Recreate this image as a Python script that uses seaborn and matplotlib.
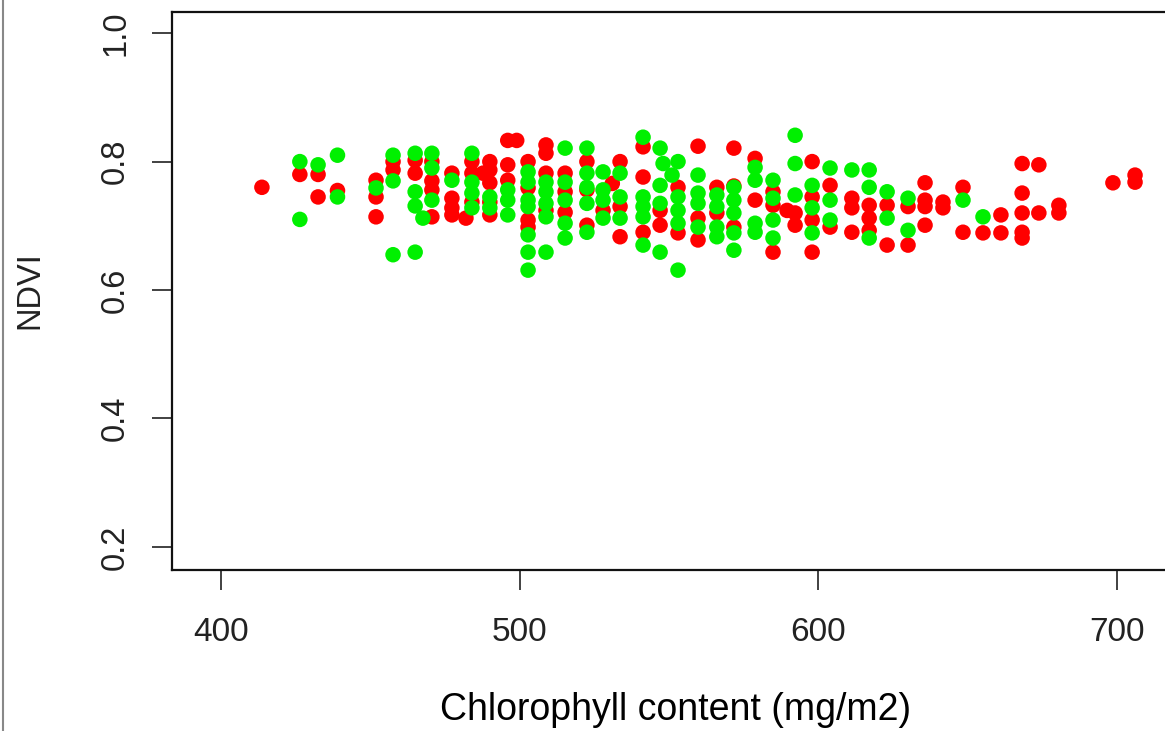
import numpy as np
import pandas as pd
import matplotlib
matplotlib.use("Agg")
import matplotlib.pyplot as plt
import seaborn as sns
from matplotlib.lines import Line2D

# chlorophyll (mg/m2) and NDVI
red_x = [413.7, 426.4, 432.5, 432.5, 439.0, 451.9, 451.9, 451.9, 457.6, 457.6,
         465.0, 465.0, 470.6, 470.6, 470.6, 470.6, 477.3, 477.3, 477.3, 477.3,
         482.0, 484.0, 484.0, 484.0, 487.7, 490.0, 490.0, 490.0, 490.0, 490.0,
         496.0, 496.0, 496.0, 499.0, 502.8, 502.8, 502.8, 502.8,
         508.8, 508.8, 508.8, 508.8, 515.2, 515.2, 515.2, 522.5, 522.5, 522.5,
         527.9, 531.0, 533.6, 533.6, 533.6, 541.3, 541.3, 541.3, 547.0, 547.0,
         553.0, 553.0, 559.7, 559.7, 559.7, 566.0, 566.0, 571.7, 571.7, 571.7,
         578.8, 578.8, 584.8, 584.8, 584.8, 589.5, 592.2, 592.2,
         597.9, 597.9, 597.9, 597.9, 603.9, 603.9, 611.2, 611.2, 611.2,
         617.0, 617.0, 617.0, 623.0, 623.0, 630.0, 630.0,
         635.7, 635.7, 635.7, 635.7, 641.7, 641.7, 648.4, 648.4, 655.1,
         661.1, 661.1, 668.2, 668.2, 668.2, 668.2, 668.2, 673.8, 673.8,
         680.5, 680.5, 698.6, 706.0, 706.0]
red_y = [0.760, 0.780, 0.780, 0.745, 0.755, 0.771, 0.745, 0.714, 0.800, 0.787,
         0.802, 0.782, 0.800, 0.770, 0.756, 0.714, 0.782, 0.743, 0.728, 0.717,
         0.712, 0.800, 0.782, 0.737, 0.782, 0.800, 0.787, 0.767, 0.737, 0.717,
         0.795, 0.771, 0.833, 0.833, 0.800, 0.759, 0.709, 0.698,
         0.826, 0.813, 0.782, 0.724, 0.782, 0.753, 0.721, 0.800, 0.756, 0.701,
         0.724, 0.766, 0.800, 0.730, 0.683, 0.823, 0.776, 0.690, 0.724, 0.701,
         0.760, 0.689, 0.824, 0.712, 0.678, 0.760, 0.720, 0.821, 0.762, 0.698,
         0.805, 0.740, 0.753, 0.732, 0.659, 0.724, 0.720, 0.701,
         0.800, 0.745, 0.709, 0.659, 0.763, 0.698, 0.743, 0.728, 0.690,
         0.732, 0.712, 0.693, 0.732, 0.670, 0.730, 0.670,
         0.767, 0.740, 0.730, 0.701, 0.737, 0.728, 0.760, 0.690, 0.689,
         0.717, 0.689, 0.797, 0.751, 0.720, 0.690, 0.681, 0.795, 0.720,
         0.732, 0.720, 0.767, 0.779, 0.768]

green_x = [426.4, 426.4, 432.5, 439.0, 439.0, 451.9, 457.6, 457.6, 457.6,
           465.0, 465.0, 465.0, 465.0, 470.6, 470.6, 470.6, 467.6, 477.3,
           484.0, 484.0, 484.0, 484.0, 490.0, 490.0, 496.0, 496.0, 496.0,
           502.8, 502.8, 502.8, 502.8, 502.8, 502.8, 502.8,
           508.8, 508.8, 508.8, 508.8, 508.8, 515.2, 515.2, 515.2, 515.2, 515.2,
           522.5, 522.5, 522.5, 522.5, 522.5, 527.9, 527.9, 527.9, 527.9,
           533.6, 533.6, 533.6, 541.3, 541.3, 541.3, 541.3, 541.3,
           547.0, 548.0, 547.0, 547.0, 547.0, 551.0, 553.0, 553.0, 553.0, 553.0, 553.0,
           559.7, 559.7, 559.7, 559.7, 566.0, 566.0, 566.0, 566.0,
           571.7, 571.7, 571.7, 571.7, 571.7, 578.8, 578.8, 578.8, 578.8,
           584.8, 584.8, 584.8, 584.8, 592.2, 592.2, 592.2, 597.9, 597.9, 597.9,
           603.9, 603.9, 603.9, 611.2, 617.0, 617.0, 617.0, 623.0, 623.0,
           630.0, 630.0, 648.4, 655.1]
green_y = [0.800, 0.710, 0.795, 0.810, 0.745, 0.759, 0.810, 0.770, 0.655,
           0.813, 0.753, 0.731, 0.659, 0.813, 0.790, 0.740, 0.712, 0.771,
           0.813, 0.768, 0.751, 0.728, 0.745, 0.728, 0.756, 0.740, 0.717,
           0.784, 0.768, 0.740, 0.730, 0.686, 0.659, 0.631,
           0.768, 0.753, 0.735, 0.714, 0.659, 0.821, 0.768, 0.740, 0.704, 0.681,
           0.821, 0.782, 0.760, 0.735, 0.690, 0.784, 0.756, 0.740, 0.712,
           0.782, 0.745, 0.712, 0.838, 0.745, 0.730, 0.714, 0.670,
           0.821, 0.797, 0.763, 0.735, 0.659, 0.779, 0.800, 0.745, 0.724, 0.704, 0.631,
           0.779, 0.751, 0.735, 0.698, 0.748, 0.730, 0.698, 0.683,
           0.760, 0.740, 0.720, 0.689, 0.662, 0.791, 0.771, 0.704, 0.690,
           0.771, 0.743, 0.709, 0.681, 0.841, 0.797, 0.748, 0.763, 0.728, 0.689,
           0.790, 0.740, 0.709, 0.787, 0.787, 0.760, 0.681, 0.753, 0.712,
           0.743, 0.693, 0.740, 0.714]

x_ticks = [400, 500, 600, 700]
y_ticks = [0.2, 0.4, 0.6, 0.8, 1.0]

df = pd.concat([
    pd.DataFrame({"chl": red_x, "ndvi": red_y, "grp": "red"}),
    pd.DataFrame({"chl": green_x, "ndvi": green_y, "grp": "green"}),
], ignore_index=True)

sns.set_theme(style="white")
plt.rcParams["font.family"] = ["Liberation Sans", "DejaVu Sans"]

fig = plt.figure(figsize=(11.65, 7.31), dpi=100)
W, H = 1165, 731
# axes box in pixels: left 172, right beyond the edge, top 12, bottom 570
ax = fig.add_axes([172 / W, 1 - 570 / H, (1190 - 172) / W, (570 - 12) / H])

sns.scatterplot(data=df, x="chl", y="ndvi", hue="grp",
                palette={"red": "#ff0000", "green": "#00f000"},
                s=125, linewidth=0, alpha=1, legend=False, ax=ax)

ax.set_xlim(383.6, 724.4)
ax.set_ylim(0.164, 1.033)
ax.set_xticks(x_ticks)
ax.set_xticklabels([str(v) for v in x_ticks])
ax.set_yticks(y_ticks)
ax.set_yticklabels([f"{v:.1f}" for v in y_ticks])

for sp in ax.spines.values():
    sp.set_color("#111111")
    sp.set_linewidth(1.6)
ax.spines["right"].set_visible(False)

ax.tick_params(axis="both", direction="out", length=14.5, width=1.3,
               color="#333333", labelcolor="#222222",
               bottom=True, left=True, top=False, right=False)
ax.tick_params(axis="x", labelsize=24, pad=19)
ax.tick_params(axis="y", labelsize=23.5, pad=15, labelrotation=90)
for lab in ax.get_yticklabels():
    lab.set_va("center")

ax.set_xlabel("Chlorophyll content (mg/m2)", fontsize=27, color="black")
ax.xaxis.set_label_coords((676 - 172) / (1190 - 172), -(692 - 570) / (570 - 12))
ax.set_ylabel("NDVI", fontsize=23.5, color="#222222")
ax.yaxis.set_label_coords((30 - 172) / (1190 - 172), (570 - 290) / (570 - 12))
ax.yaxis.label.set_va("center")

fig.add_artist(Line2D([3 / W, 3 / W], [0, 1], color="#888888", linewidth=1.5))

fig.savefig("out.png", dpi=100)
